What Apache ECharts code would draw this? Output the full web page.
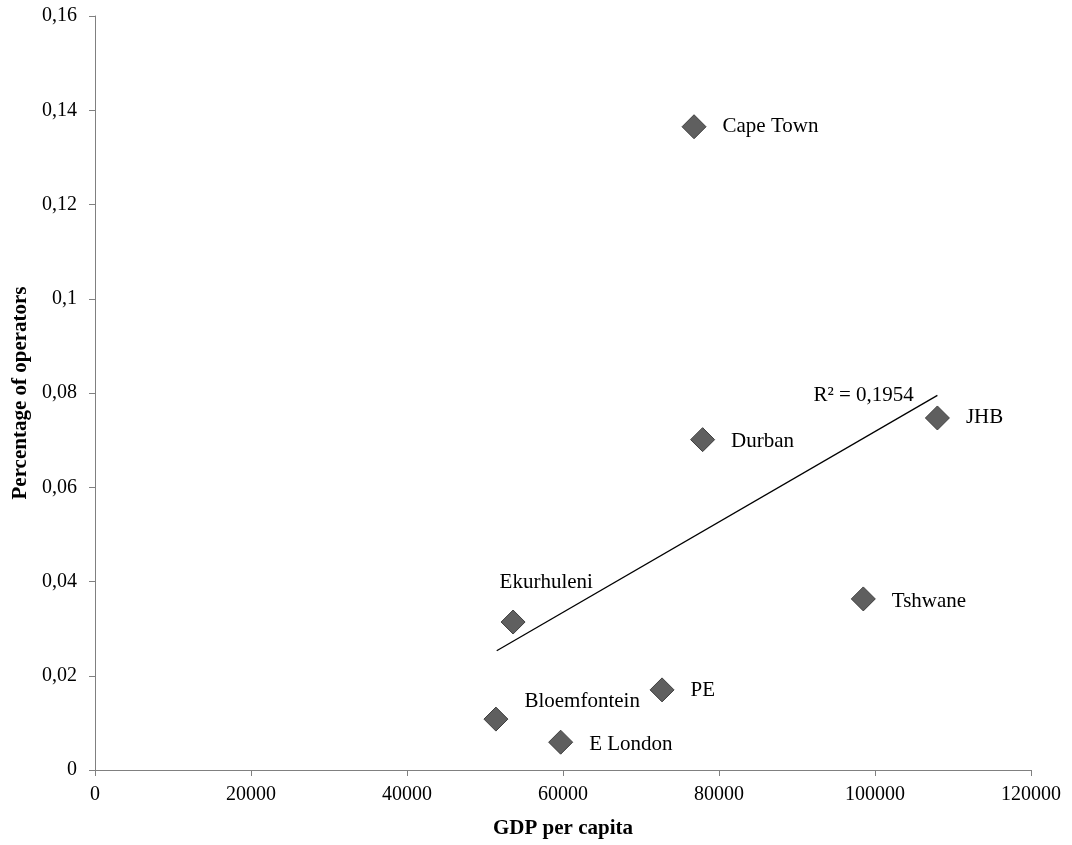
<!DOCTYPE html>
<html>
<head>
<meta charset="utf-8">
<script src="https://cdn.jsdelivr.net/npm/echarts@6/dist/echarts.min.js"></script>
<style>
  html, body { margin: 0; padding: 0; background: #fff; }
  #main { width: 1072px; height: 845px; }
</style>
</head>
<body>
<div id="main"></div>
<script>
// city data
var cities = ['Cape Town', 'Durban', 'JHB', 'Tshwane', 'Ekurhuleni', 'PE', 'Bloemfontein', 'E London'];
var gdp = [76800, 77900, 108000, 98500, 53600, 72700, 51400, 59700];
var share = [0.1365, 0.0701, 0.0747, 0.0363, 0.0314, 0.0170, 0.0108, 0.0059];

// trendline ends
var trendX = [51500, 108000];
var trendY = [0.0253, 0.0795];
var r2Text = 'R² = 0,1954';

// label offsets per city (dx, dy)
var labelOffsets = {
    'Cape Town': [0, 0],
    'Durban': [0, 2],
    'JHB': [0, 0],
    'Tshwane': [0, 3],
    'Ekurhuleni': [-42, -40],
    'PE': [0, 1],
    'Bloemfontein': [0, -18],
    'E London': [0, 2]
};

var points = cities.map(function (c, i) {
    return {
        value: [gdp[i], share[i]],
        name: c,
        label: { offset: labelOffsets[c] }
    };
});

var trend = trendX.map(function (x, i) {
    return [x, trendY[i]];
});

var serif = '"Liberation Serif", "DejaVu Serif", serif';

var myChart = echarts.init(document.getElementById('main'));
myChart.setOption({
    animation: false,
    backgroundColor: '#fff',
    textStyle: { fontFamily: serif },
    grid: { left: 95, right: 41, top: 16, bottom: 75, containLabel: false, outerBoundsMode: 'none' },
    xAxis: {
        type: 'value',
        min: 0, max: 120000, interval: 20000,
        name: 'GDP per capita',
        nameLocation: 'middle',
        nameGap: 48,
        nameTextStyle: { fontFamily: serif, fontWeight: 'bold', fontSize: 21, color: '#000' },
        axisLine: { lineStyle: { color: '#808080', width: 1 } },
        axisTick: { show: true, length: 6, lineStyle: { color: '#808080' } },
        axisLabel: {
            fontFamily: serif, fontSize: 20, color: '#000', margin: 15,
            formatter: function (v) { return String(v); }
        },
        splitLine: { show: false }
    },
    yAxis: {
        type: 'value',
        min: 0, max: 0.16, interval: 0.02,
        name: 'Percentage of operators',
        nameLocation: 'middle',
        nameGap: 64,
        nameTextStyle: { fontFamily: serif, fontWeight: 'bold', fontSize: 21, color: '#000' },
        axisLine: { show: true, lineStyle: { color: '#808080', width: 1 } },
        axisTick: { show: true, length: 6, lineStyle: { color: '#808080' } },
        axisLabel: {
            fontFamily: serif, fontSize: 20, color: '#000', margin: 18,
            formatter: function (v) {
                return String(+v.toFixed(2)).replace('.', ',');
            }
        },
        splitLine: { show: false }
    },
    series: [
        {
            type: 'line',
            data: trend,
            symbol: 'none',
            lineStyle: { color: '#000', width: 1.3 },
            silent: true,
            endLabel: {
                show: true,
                formatter: r2Text,
                position: 'left',
                offset: [-132, 0],
                fontFamily: serif,
                fontSize: 21,
                color: '#000'
            }
        },
        {
            type: 'scatter',
            data: points,
            symbol: 'diamond',
            symbolSize: 24,
            itemStyle: { color: '#5f5f5f', borderColor: '#3f3f3f', borderWidth: 1, opacity: 1 },
            label: {
                show: true,
                position: 'right',
                distance: 16,
                formatter: '{b}',
                fontFamily: serif,
                fontSize: 21,
                color: '#000'
            }
        }
    ]
});
</script>
</body>
</html>
